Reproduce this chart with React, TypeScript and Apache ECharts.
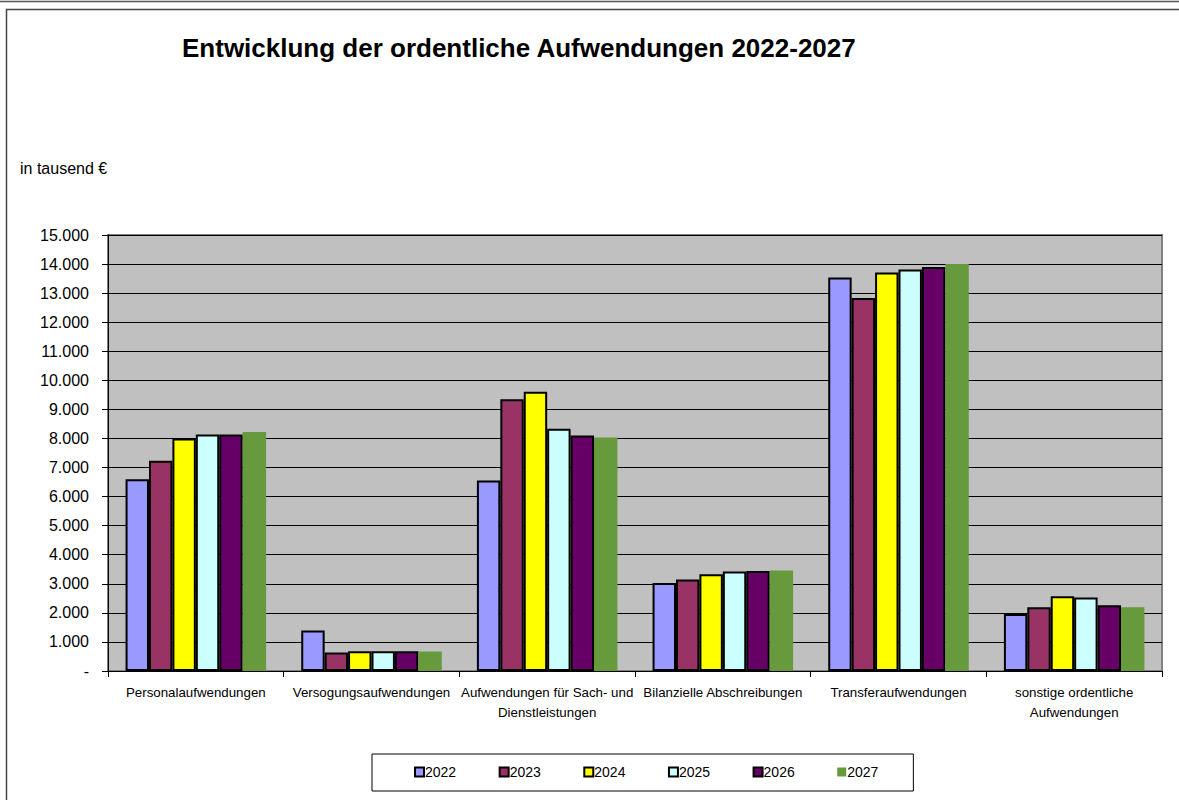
import React, { useEffect, useRef } from "react";
import * as echarts from "echarts";

const categories = [
  "Personalaufwendungen",
  "Versogungsaufwendungen",
  "Aufwendungen für Sach- und\nDienstleistungen",
  "Bilanzielle Abschreibungen",
  "Transferaufwendungen",
  "sonstige ordentliche\nAufwendungen",
];

const years = ["2022", "2023", "2024", "2025", "2026", "2027"];

const v2022 = [6600, 1390, 6550, 3030, 13540, 1960];
const v2023 = [7230, 640, 9350, 3150, 12830, 2190];
const v2024 = [8000, 680, 9610, 3330, 13710, 2570];
const v2025 = [8140, 680, 8330, 3420, 13810, 2530];
const v2026 = [8140, 680, 8100, 3440, 13900, 2260];
const v2027 = [8220, 670, 8030, 3460, 14000, 2190];

const seriesValues = [v2022, v2023, v2024, v2025, v2026, v2027];
const colors = ["#9999FF", "#993366", "#FFFF00", "#CCFFFF", "#660066", "#669A3C"];

const yTicks = { min: 0, max: 15000, interval: 1000 };

const FONT = "'Liberation Sans', Arial, sans-serif";

export default function App() {
  const ref = useRef<HTMLDivElement>(null);

  useEffect(() => {
    if (!ref.current) return;
    const chart = echarts.init(ref.current, undefined, { renderer: "svg" });
    const option: any = {
      animation: false,
      backgroundColor: "#ffffff",
      textStyle: { fontFamily: FONT, color: "#000" },
      graphic: [
        {
          type: "line",
          shape: { x1: 0, y1: 1.5, x2: 1179, y2: 1.5 },
          style: { stroke: "#555", lineWidth: 1.5 },
          silent: true,
        },
        {
          type: "rect",
          shape: { x: 6.5, y: 9.5, width: 1180, height: 800 },
          style: { fill: "none", stroke: "#444", lineWidth: 1.5 },
          silent: true,
        },
        {
          type: "text",
          left: 182,
          top: 35,
          style: {
            text: "Entwicklung der ordentliche Aufwendungen 2022-2027",
            font: `bold 26px ${FONT}`,
            fill: "#000",
          },
        },
        {
          type: "text",
          left: 20,
          top: 160,
          style: {
            text: "in tausend €",
            font: `16px ${FONT}`,
            fill: "#000",
          },
        },
      ],
      legend: {
        data: years,
        left: 372,
        top: 754,
        orient: "horizontal",
        icon: "rect",
        itemWidth: 9,
        itemHeight: 9,
        itemGap: 42.5,
        padding: [11, 35, 12, 42],
        borderColor: "#000",
        borderWidth: 1,
        backgroundColor: "#fff",
        textStyle: { fontFamily: FONT, fontSize: 14, color: "#000", padding: [0, 0, 0, -4] },
      },
      grid: {
        left: 108,
        right: 17,
        top: 235,
        bottom: 129,
        show: true,
        backgroundColor: "#C0C0C0",
        borderColor: "#808080",
        borderWidth: 2,
      },
      xAxis: {
        type: "category",
        data: categories,
        axisLine: { show: true, lineStyle: { color: "#000", width: 1 } },
        axisTick: { show: true, length: 6, lineStyle: { color: "#000" } },
        axisLabel: {
          interval: 0,
          margin: 11,
          fontFamily: FONT,
          fontSize: 13.3,
          color: "#000",
          lineHeight: 20,
        },
        splitLine: { show: false },
      },
      yAxis: {
        type: "value",
        min: yTicks.min,
        max: yTicks.max,
        interval: yTicks.interval,
        axisLine: { show: true, lineStyle: { color: "#000", width: 1 } },
        axisTick: { show: true, length: 6, lineStyle: { color: "#000" } },
        axisLabel: {
          margin: 19,
          fontFamily: FONT,
          fontSize: 16,
          color: "#000",
          formatter: (v: number) =>
            v === 0 ? "-" : v.toLocaleString("de-DE"),
        },
        splitLine: { show: true, lineStyle: { color: "#000", width: 1 } },
      },
      series: years.map((y, i) => ({
        name: y,
        type: "bar",
        data: seriesValues[i],
        barGap: "0%",
        barCategoryGap: "20%",
        itemStyle: {
          color: colors[i],
          borderColor: i === 5 ? colors[i] : "#000",
          borderWidth: i === 5 ? 0 : 2,
        },
      })),
    };
    chart.setOption(option);
    return () => chart.dispose();
  }, []);

  return (
    <div
      ref={ref}
      style={{ position: "fixed", left: 0, top: 0, width: 1179, height: 800 }}
    />
  );
}
